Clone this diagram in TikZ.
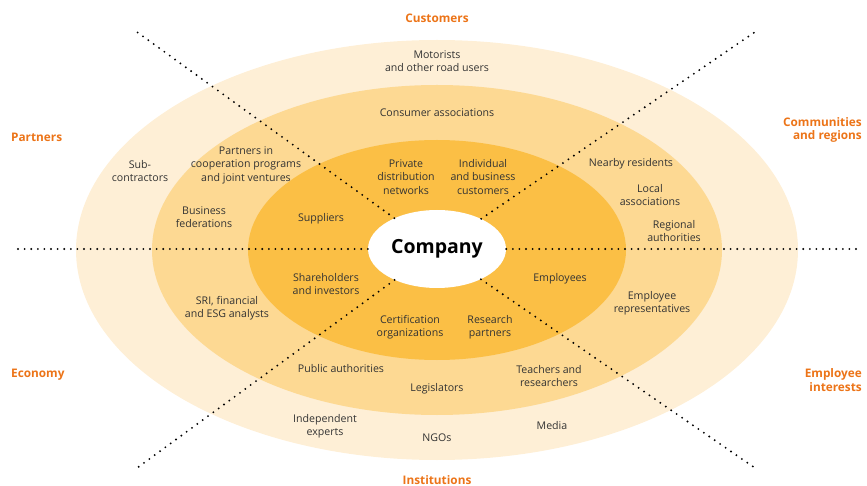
\documentclass[tikz,border=0pt]{standalone}
\usepackage{fontspec}
\setmainfont{Open Sans}
\usetikzlibrary{shapes.geometric}
\definecolor{ringout}{HTML}{FEEFD6}
\definecolor{ringmid}{HTML}{FDD993}
\definecolor{ringin}{HTML}{FBBF45}
\definecolor{headorange}{HTML}{EC7418}
\definecolor{bodygray}{HTML}{333333}
\tikzset{
  hub/.style={ % white ellipse holding the company
    ellipse, fill=white, minimum width=138pt, minimum height=78pt,
    inner sep=0pt, text=black, font=\fontsize{19.5}{22}\selectfont\bfseries
  },
  party/.style={ % one stakeholder inside a ring
    align=center, inner sep=0pt, text=bodygray,
    font=\fontsize{10.6}{13.5}\selectfont
  },
  family/.style={ % orange heading of a stakeholder family
    inner sep=0pt, text=headorange,
    font=\fontsize{11.8}{13.5}\selectfont\bfseries
  },
  spoke/.style={ % dotted separator line
    line width=2.1pt, line cap=round, dash pattern=on 0pt off 6.6pt
  }
}

\begin{document}
\begin{tikzpicture}[x=1pt, y=-1pt]
  \useasboundingbox (0,0) rectangle (867,486);

  % the three rings
  \fill[ringout] (437,250) ellipse [x radius=361pt, y radius=210pt];
  \fill[ringmid] (437,250) ellipse [x radius=285pt, y radius=165pt];
  \fill[ringin]  (437,250) ellipse [x radius=189pt, y radius=110pt];

  \node[hub] (company) at (437,249) {Company};

  % ends of the spokes
  \coordinate (nw) at (137,32);
  \coordinate (ne) at (755,32);
  \coordinate (sw) at (137,468);
  \coordinate (se) at (755,468);
  \coordinate (w)  at (12,249);
  \coordinate (e)  at (861,249);

  \draw[spoke] (company) -- (nw);
  \draw[spoke] (company) -- (ne);
  \draw[spoke] (company) -- (sw);
  \draw[spoke] (company) -- (se);
  \draw[spoke] (company) -- (w);
  \draw[spoke] (company) -- (e);

  % stakeholder families
  \node[family] (customers) at (437,18) {Customers};
  \node[family] (institutions) at (437,480) {Institutions};
  \node[family, anchor=west] (partners) at (11,137) {Partners};
  \node[family, anchor=west] (economy) at (11,375) {Economy};
  \node[family, anchor=east, align=right] (communities) at (862,130) {Communities\\and regions};
  \node[family, anchor=east, align=right] (empint) at (862,380) {Employee\\interests};

  % outer ring
  \node[party] (motorists) at (437,61) {Motorists\\and other road users};
  \node[party] (subcon) at (140,171) {Sub-\\contractors};
  \node[party] (indep) at (325,426) {Independent\\experts};
  \node[party] (ngos) at (437,438) {NGOs};
  \node[party] (media) at (552,426) {Media};

  % middle ring
  \node[party] (consumer) at (437,113) {Consumer associations};
  \node[party] (coop) at (246,165) {Partners in\\cooperation programs\\and joint ventures};
  \node[party] (busfed) at (204,217) {Business\\federations};
  \node[party] (sri) at (227,308) {SRI, financial\\and ESG analysts};
  \node[party] (pubauth) at (341,369) {Public authorities};
  \node[party] (legis) at (437,389) {Legislators};
  \node[party] (teachers) at (549,376) {Teachers and\\researchers};
  \node[party] (nearby) at (631,164) {Nearby residents};
  \node[party] (localas) at (650,195) {Local\\associations};
  \node[party] (regauth) at (674,231) {Regional\\authorities};
  \node[party] (emprep) at (652,303) {Employee\\representatives};

  % inner ring
  \node[party] (privdist) at (406,177) {Private\\distribution\\networks};
  \node[party] (indiv) at (483,177) {Individual\\and business\\customers};
  \node[party] (suppliers) at (321,219) {Suppliers};
  \node[party] (sharehold) at (326,284) {Shareholders\\and investors};
  \node[party] (employees) at (560,279) {Employees};
  \node[party] (certif) at (410,327) {Certification\\organizations};
  \node[party] (research) at (490,327) {Research\\partners};
\end{tikzpicture}
\end{document}
